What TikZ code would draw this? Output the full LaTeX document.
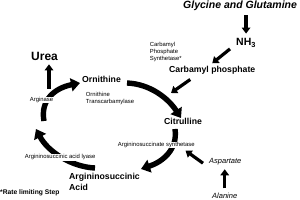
\documentclass[tikz,border=0pt]{standalone}
\usepackage{fontspec}
\setmainfont{Liberation Sans}
\usepackage{tikz}
\usetikzlibrary{arrows.meta, positioning, calc}

\begin{document}
\begin{tikzpicture}[
    x=1pt, y=-1pt,
    metabolite/.style={font=\fontsize{8.7}{10.5}\selectfont\bfseries,
                       inner sep=0pt, anchor=base west, align=left},
    enzyme/.style={font=\fontsize{5.9}{7.2}\selectfont, fill=white,
                   inner sep=0.7pt, anchor=base west, align=left},
    aminoacid/.style={font=\fontsize{7.5}{9}\selectfont\itshape,
                      inner sep=0pt, anchor=base west},
    feedarrow/.style={-{Triangle[length=6pt, width=8.5pt]}, line width=3.2pt},
    cyclearrow/.style={-{Triangle[length=9pt, width=13pt]}, line width=5.4pt},
]
\useasboundingbox (0,0) rectangle (300,200);

% ============================================================
% CYCLE (drawn first, enzyme labels sit on top)
% ============================================================
\coordinate (argOut)  at (44,121);
\coordinate (ornIn)   at (80,83);
\coordinate (ornOut)  at (127,83);
\coordinate (citIn)   at (181,118);
\coordinate (citOut)  at (175,129);
\coordinate (asaIn)   at (141,169);
\coordinate (asaOut)  at (95,168);
\coordinate (argIn)   at (36,129);
\coordinate (otcJoin) at (171,93);
\coordinate (ureaOut) at (49,89);

\draw[cyclearrow] (argOut) .. controls (40,100) and (55,88) .. (ornIn);
\draw[cyclearrow] (ornOut) .. controls (150,84) and (168,98) .. (citIn);
\draw[cyclearrow] (citOut) .. controls (178,150) and (162,162) .. (asaIn);
\draw[cyclearrow] (asaOut) .. controls (72,167) and (48,152) .. (argIn);

% ============================================================
% NODES (multi-line nodes sit on the baseline of their last line)
% ============================================================
\node[font=\fontsize{10.5}{12}\selectfont\bfseries\itshape, inner sep=0pt,
      anchor=base west] (glycine) at (183,9) {Glycine and Glutamine};
\node[font=\fontsize{10.5}{12}\selectfont\bfseries, inner sep=0pt,
      anchor=base west] (nh3) at (236,46) {NH\textsubscript{3}};
\node[metabolite] (carbP) at (169,72.5) {Carbamyl phosphate};
\node[enzyme] (cps) at (149,61) {Carbamyl\\Phosphate\\Synthetase*};

\node[font=\fontsize{12}{14}\selectfont\bfseries, inner sep=0pt,
      anchor=base west] (urea) at (31,61) {Urea};
\node[metabolite] (ornithine) at (82,82.5) {Ornithine};
\node[enzyme] (otc) at (85,103.5) {Ornithine\\Transcarbamylase};
\node[enzyme] (arginase) at (29,101.5) {Arginase};

\node[metabolite] (citrulline) at (164,124.5) {Citrulline};
\node[enzyme] (ass) at (117,146.5) {Argininosuccinate synthetase};
\node[aminoacid] (aspartate) at (209,164) {Aspartate};
\node[aminoacid] (alanine) at (212,199) {Alanine};

\node[enzyme] (asl) at (24,159) {Argininosuccinic acid lyase};
\node[metabolite] (asa) at (69,190.5) {Argininosuccinic\\Acid};
\node[font=\fontsize{6.7}{8}\selectfont\bfseries, inner sep=0pt,
      anchor=base west] (note) at (0,194.5) {*Rate limiting Step};

% ============================================================
% FEED ARROWS
% ============================================================
\draw[feedarrow, shorten <=4pt, shorten >=5pt]
    (nh3.north |- glycine.south) -- (nh3.north);
\draw[feedarrow] ($(nh3.south west)+(-6,1)$) -- ($(carbP.north)+(0,-2.7)$);
\draw[feedarrow] ($(carbP.south)+(-22,5)$) -- (otcJoin);
\draw[feedarrow, shorten >=3pt] (ureaOut) -- (ureaOut |- urea.south);
\draw[feedarrow] ($(aspartate.west)+(-6,1)$) -- ($(ass.south east)+(-10,2)$);
\draw[feedarrow, shorten <=5pt, shorten >=3.5pt]
    (alanine.north) -- (alanine.north |- aspartate.south);

\end{tikzpicture}
\end{document}
